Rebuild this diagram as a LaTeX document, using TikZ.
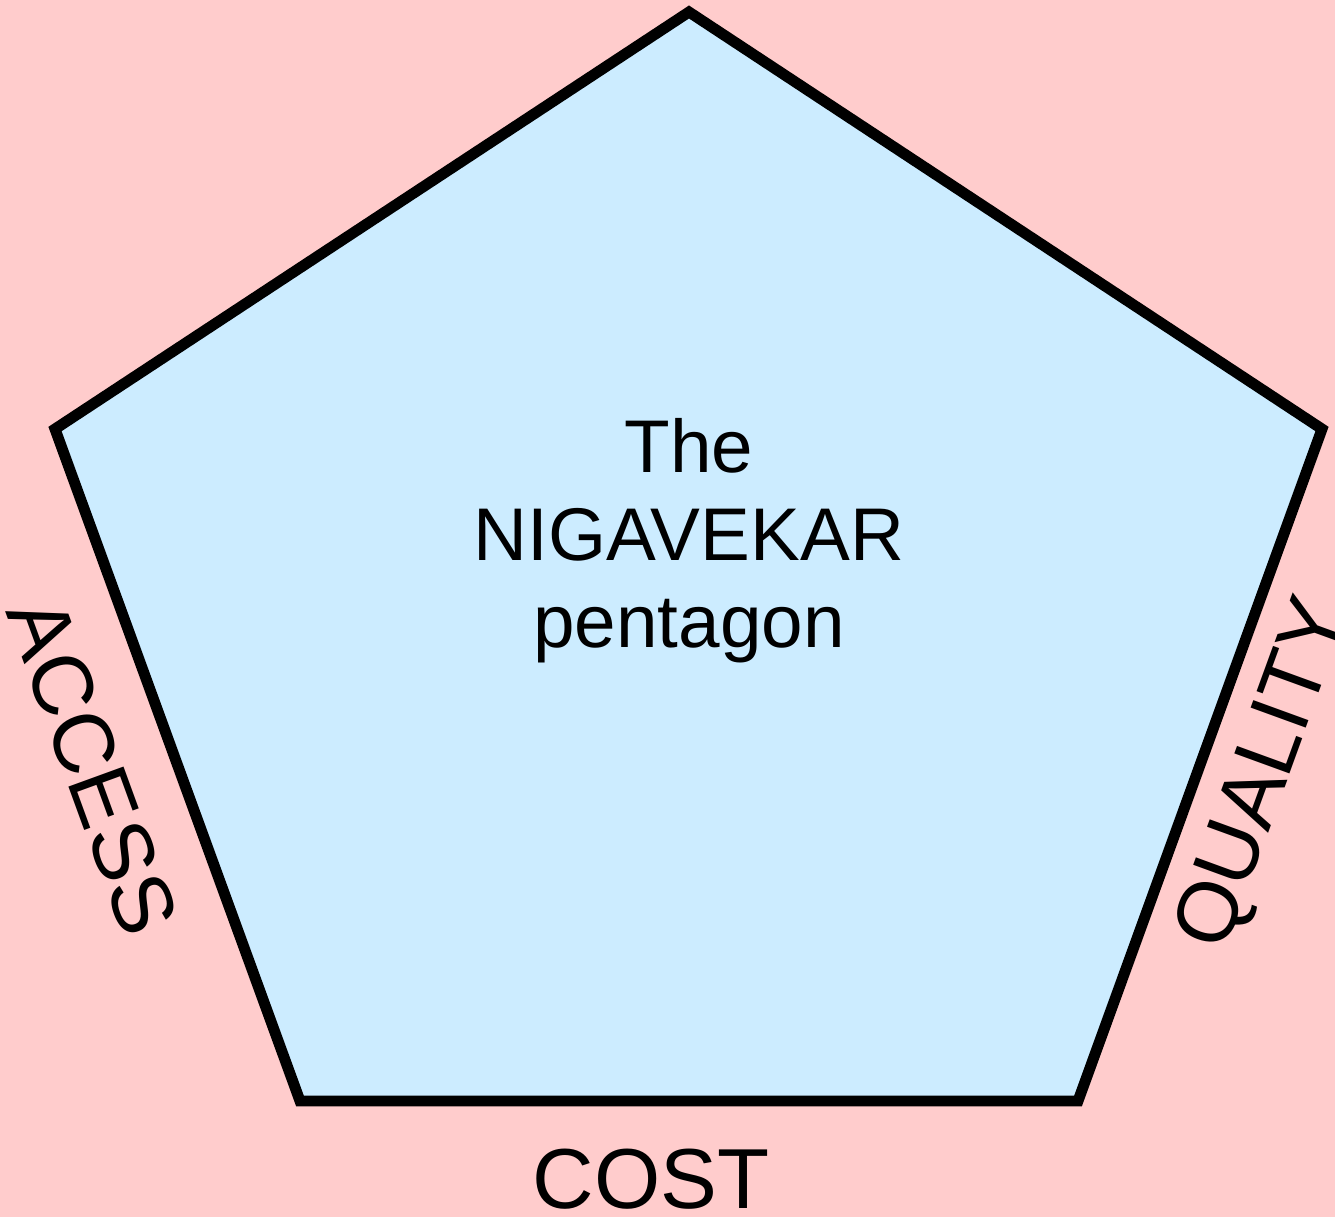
\documentclass[tikz,border=0pt]{standalone}
\usepackage{fontspec}
\setmainfont{Liberation Sans}
\usepackage{tikz}
\usetikzlibrary{positioning,calc}
\definecolor{bgpink}{HTML}{FFCCCC}
\definecolor{penta}{HTML}{CCECFF}
\tikzset{
  rim/.style={draw=black, fill=penta, line width=6.2pt, line join=miter},
  side/.style={font=\fontsize{48.5}{58}\selectfont, inner sep=0pt,
    text height=34.7pt, text depth=0pt, anchor=center},
  title/.style={font=\fontsize{42.5}{49.9}\selectfont, align=center, inner sep=0pt},
}
\begin{document}
\begin{tikzpicture}[x=0.02cm,y=-0.02cm]
  \fill[bgpink] (0,0) rectangle (1335,1217);
  \useasboundingbox (0,0) rectangle (1335,1217);
  % corners
  \coordinate (top) at (689,12);
  \coordinate (rgt) at (1322,429);
  \coordinate (br) at (1078,1101);
  \coordinate (bl) at (300,1101);
  \coordinate (lft) at (55,429);
  \draw[rim] (top) -- (rgt) -- (br) -- (bl) -- (lft) -- cycle;
  % labels
  \node[title] (name) at (689,541) {The\\NIGAVEKAR\\pentagon};
  \node[side,rotate=-70] (access) at (94,766) {ACCESS};
  \node[side,rotate=70] (quality) at (1258,772) {QUALITY};
  \node[side] (cost) at (651,1178) {COST};
\end{tikzpicture}
\end{document}
